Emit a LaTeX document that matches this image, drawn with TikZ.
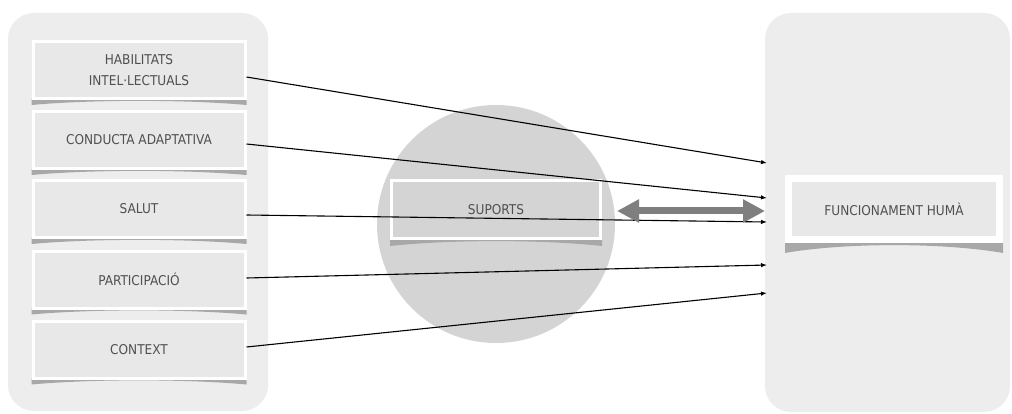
\documentclass[tikz,border=0pt]{standalone}
\usepackage{fontspec}
\setmainfont{DejaVu Sans Condensed}
\usetikzlibrary{arrows.meta,calc}
\definecolor{panel}{HTML}{EDEDED}
\definecolor{boxfill}{HTML}{E8E8E8}
\definecolor{circ}{HTML}{D4D4D4}
\definecolor{txt}{HTML}{505050}
\definecolor{shd}{HTML}{A8A8A8}
\definecolor{dbl}{HTML}{7F7F7F}
\newcommand\bxshadow[2]{%
  \fill[shd] ($(#1.south west)+(0,-1)$) -- ($(#1.south east)+(0,-1)$) -- ($(#1.south east)+(0,#2)$)
    .. controls ($(#1.south east)+(-60,-0.5)$) and ($(#1.south west)+(60,-0.5)$) .. ($(#1.south west)+(0,#2)$) -- cycle;}
\tikzset{
  x=1pt,y=-1pt,
  panelbox/.style={fill=panel,rounded corners=26pt},
  item/.style={draw=white,line width=3pt,fill=boxfill,minimum width=212pt,minimum height=57pt,
    inner sep=0pt,align=center,text=txt,font=\fontsize{13.5}{21}\selectfont},
  conn/.style={line width=1.1pt,-{Latex[length=6pt,width=4.5pt]}},
  dblarrow/.style={draw=dbl,line width=7pt,{Triangle[length=22pt,width=22pt]}-{Triangle[length=22pt,width=22pt]}}
}
\begin{document}
\begin{tikzpicture}
\useasboundingbox (0,0) rectangle (1012,414);
\fill[white] (0,0) rectangle (1012,414);
\fill[panelbox] (8,13) rectangle (268,411);
\fill[panelbox] (765,13) rectangle (1010,412);
\fill[circ] (496,224) circle (119);
% left items (first pass, for the shadow anchors)
\node[item] (b1) at (139,70) {HABILITATS\\INTEL·LECTUALS};
\node[item] (b2) at (139,140) {CONDUCTA ADAPTATIVA};
\node[item] (b3) at (139,209) {SALUT};
\node[item] (b4) at (139,279.5) {PARTICIPACIÓ};
\node[item] (b5) at (139,349.5) {CONTEXT};
\foreach \n in {b1,b2,b3,b4,b5} {\bxshadow{\n}{5}}
\node[item,fill=circ,minimum width=209pt,minimum height=58pt] (sup) at (496,209.5) {SUPORTS};
\bxshadow{sup}{6}
\node[item,line width=7pt,minimum width=211pt,minimum height=61pt] (fh) at (894,209) {FUNCIONAMENT HUMÀ};
\bxshadow{fh}{10}
% redraw nodes on top of shadows
\foreach \p/\t in {{139,70}/{HABILITATS\\INTEL·LECTUALS},{139,140}/{CONDUCTA ADAPTATIVA},{139,209}/{SALUT},{139,279.5}/{PARTICIPACIÓ},{139,349.5}/{CONTEXT}}
  {\node[item] at (\p) {\t};}
\node[item,fill=circ,minimum width=209pt,minimum height=58pt] at (496,209.5) {SUPORTS};
\node[item,line width=7pt,minimum width=211pt,minimum height=61pt] at (894,209) {FUNCIONAMENT HUMÀ};
% targets
\coordinate (t1) at (767,163);
\coordinate (t2) at (767,198);
\coordinate (t3) at (767,222);
\coordinate (t4) at (767,265);
\coordinate (t5) at (767,293);
\draw[conn] ([yshift=-7pt]b1.east) -- (t1);
\draw[conn] ([yshift=-4pt]b2.east) -- (t2);
\draw[conn] ([yshift=-6pt]b3.east) -- (t3);
\draw[conn] ([yshift=1.5pt]b4.east) -- (t4);
\draw[conn] ([yshift=2.5pt]b5.east) -- (t5);
\draw[dblarrow] ([xshift=15pt,yshift=-1.5pt]sup.east) -- ([xshift=-20pt,yshift=-2pt]fh.west);
\end{tikzpicture}
\end{document}
